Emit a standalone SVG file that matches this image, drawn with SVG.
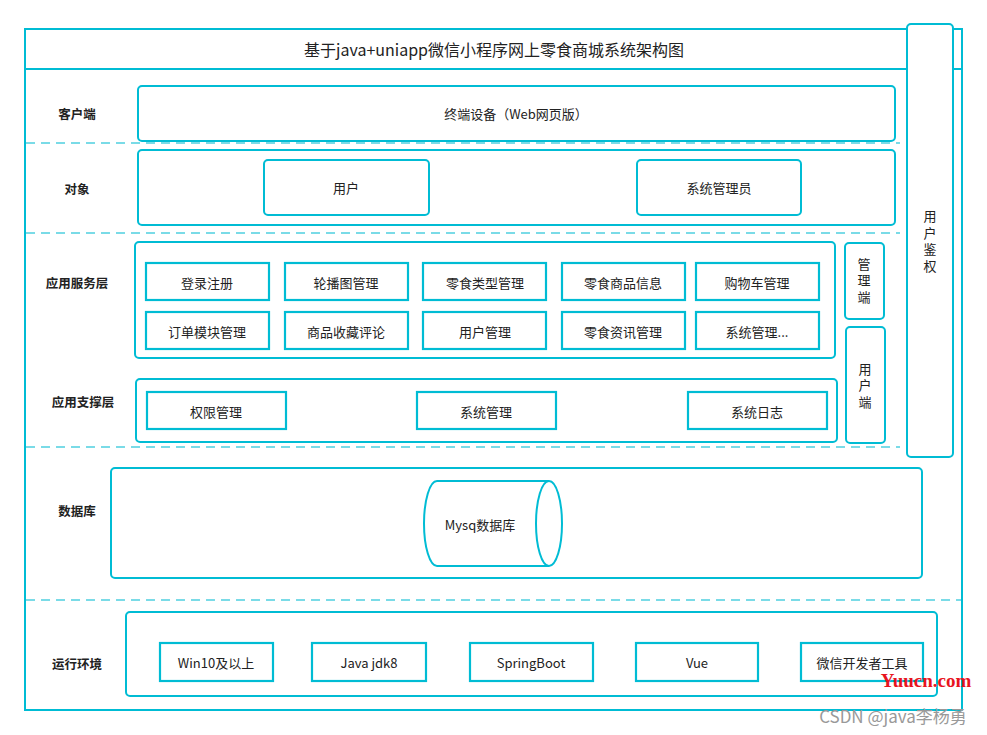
<svg xmlns="http://www.w3.org/2000/svg" width="987" height="735" viewBox="0 0 987 735">
<style>
.fr{fill:none;stroke:#00BCD4;stroke-width:2}
.rb{fill:#fff;stroke:#00BCD4;stroke-width:2}
.sq{fill:#fff;stroke:#00BCD4;stroke-width:2.2}
.dash{stroke:#4FD0E0;stroke-width:1.5;stroke-dasharray:9 6;fill:none}
text{font-family:"Noto Sans CJK SC","Liberation Sans",sans-serif;font-size:13px;fill:#222;text-anchor:middle;dominant-baseline:central}
.lb{font-weight:bold;font-size:12.5px}
.ttl{font-size:16px}
.v{writing-mode:vertical-rl;letter-spacing:3.5px}
</style>
<rect width="987" height="735" fill="#fff"/>
<g id="frame">
<rect class="fr" x="25" y="29" width="937" height="681"/>
<line class="fr" x1="25" y1="69" x2="962" y2="69"/>
<text class="ttl" x="494" y="49">基于java+uniapp微信小程序网上零食商城系统架构图</text>
</g>
<g id="separators">
<line class="dash" x1="26" y1="143" x2="900" y2="143"/>
<line class="dash" x1="26" y1="233" x2="900" y2="233"/>
<line class="dash" x1="26" y1="447" x2="900" y2="447"/>
<line class="dash" x1="26" y1="600" x2="961" y2="600"/>
</g>
<g id="labels">
<text class="lb" x="77" y="113">客户端</text>
<text class="lb" x="77" y="188">对象</text>
<text class="lb" x="77" y="282">应用服务层</text>
<text class="lb" x="83" y="401">应用支撑层</text>
<text class="lb" x="77" y="510">数据库</text>
<text class="lb" x="77" y="663">运行环境</text>
</g>
<g id="auth">
<rect class="rb" x="907" y="24" width="46" height="433" rx="4"/>
<text class="v" x="930" y="243">用户鉴权</text>
</g>
<g id="client">
<rect class="rb" x="138" y="86" width="757" height="55" rx="4"/>
<text x="516" y="113">终端设备（Web网页版）</text>
</g>
<g id="objects">
<rect class="rb" x="138" y="150" width="757" height="75" rx="4"/>
<g id="obj-user"><rect class="rb" x="264" y="160" width="165" height="55" rx="4"/><text x="346" y="187">用户</text></g>
<g id="obj-admin"><rect class="rb" x="637" y="160" width="164" height="55" rx="4"/><text x="719" y="187">系统管理员</text></g>
</g>
<g id="service">
<rect class="rb" x="135" y="242" width="700" height="116" rx="4"/>
<g id="s1"><rect class="sq" x="146" y="263" width="123" height="37"/><text x="207" y="282">登录注册</text></g>
<g id="s2"><rect class="sq" x="285" y="263" width="123" height="37"/><text x="346" y="282">轮播图管理</text></g>
<g id="s3"><rect class="sq" x="423" y="263" width="123" height="37"/><text x="485" y="282">零食类型管理</text></g>
<g id="s4"><rect class="sq" x="562" y="263" width="123" height="37"/><text x="623" y="282">零食商品信息</text></g>
<g id="s5"><rect class="sq" x="696" y="263" width="123" height="37"/><text x="757" y="282">购物车管理</text></g>
<g id="s6"><rect class="sq" x="146" y="312" width="123" height="37"/><text x="207" y="331">订单模块管理</text></g>
<g id="s7"><rect class="sq" x="285" y="312" width="123" height="37"/><text x="346" y="331">商品收藏评论</text></g>
<g id="s8"><rect class="sq" x="423" y="312" width="123" height="37"/><text x="485" y="331">用户管理</text></g>
<g id="s9"><rect class="sq" x="562" y="312" width="123" height="37"/><text x="623" y="331">零食资讯管理</text></g>
<g id="s10"><rect class="sq" x="696" y="312" width="123" height="37"/><text x="757" y="331">系统管理...</text></g>
</g>
<g id="admin-side">
<rect class="rb" x="845" y="243" width="39" height="76" rx="4"/>
<text class="v" x="864" y="282">管理端</text>
</g>
<g id="user-side">
<rect class="rb" x="846" y="327" width="39" height="116" rx="4"/>
<text class="v" x="865" y="387">用户端</text>
</g>
<g id="support">
<rect class="rb" x="136" y="379" width="701" height="63" rx="4"/>
<g id="p1"><rect class="sq" x="147" y="392" width="139" height="37"/><text x="216" y="411">权限管理</text></g>
<g id="p2"><rect class="sq" x="417" y="392" width="139" height="37"/><text x="486" y="411">系统管理</text></g>
<g id="p3"><rect class="sq" x="688" y="392" width="139" height="37"/><text x="757" y="411">系统日志</text></g>
</g>
<g id="database">
<rect class="rb" x="111" y="468" width="811" height="110" rx="4"/>
<g id="mysql">
<path class="rb" d="M549,481 L437,481 A13,42.5 0 0 0 437,566 L549,566"/>
<ellipse class="rb" cx="549" cy="523.5" rx="13" ry="42.5"/>
<text x="480" y="524">Mysq数据库</text>
</g>
</g>
<g id="runtime">
<rect class="rb" x="126" y="612" width="811" height="84" rx="4"/>
<g id="r1"><rect class="sq" x="160" y="643" width="113" height="38"/><text x="216" y="662">Win10及以上</text></g>
<g id="r2"><rect class="sq" x="312" y="643" width="114" height="38"/><text x="369" y="662">Java jdk8</text></g>
<g id="r3"><rect class="sq" x="470" y="643" width="123" height="38"/><text x="531" y="662">SpringBoot</text></g>
<g id="r4"><rect class="sq" x="636" y="643" width="122" height="38"/><text x="697" y="662">Vue</text></g>
<g id="r5"><rect class="sq" x="801" y="643" width="122" height="38"/><text x="862" y="662">微信开发者工具</text></g>
</g>
<g id="connectors"></g>
<g id="watermark">
<text x="926" y="680" style="font-family:'Liberation Serif',serif;font-size:19px;font-weight:bold;fill:#E8141E">Yuucn.com</text>
<text x="893" y="715" style="font-size:17px;fill:#999">CSDN @java李杨勇</text>
</g>
</svg>
